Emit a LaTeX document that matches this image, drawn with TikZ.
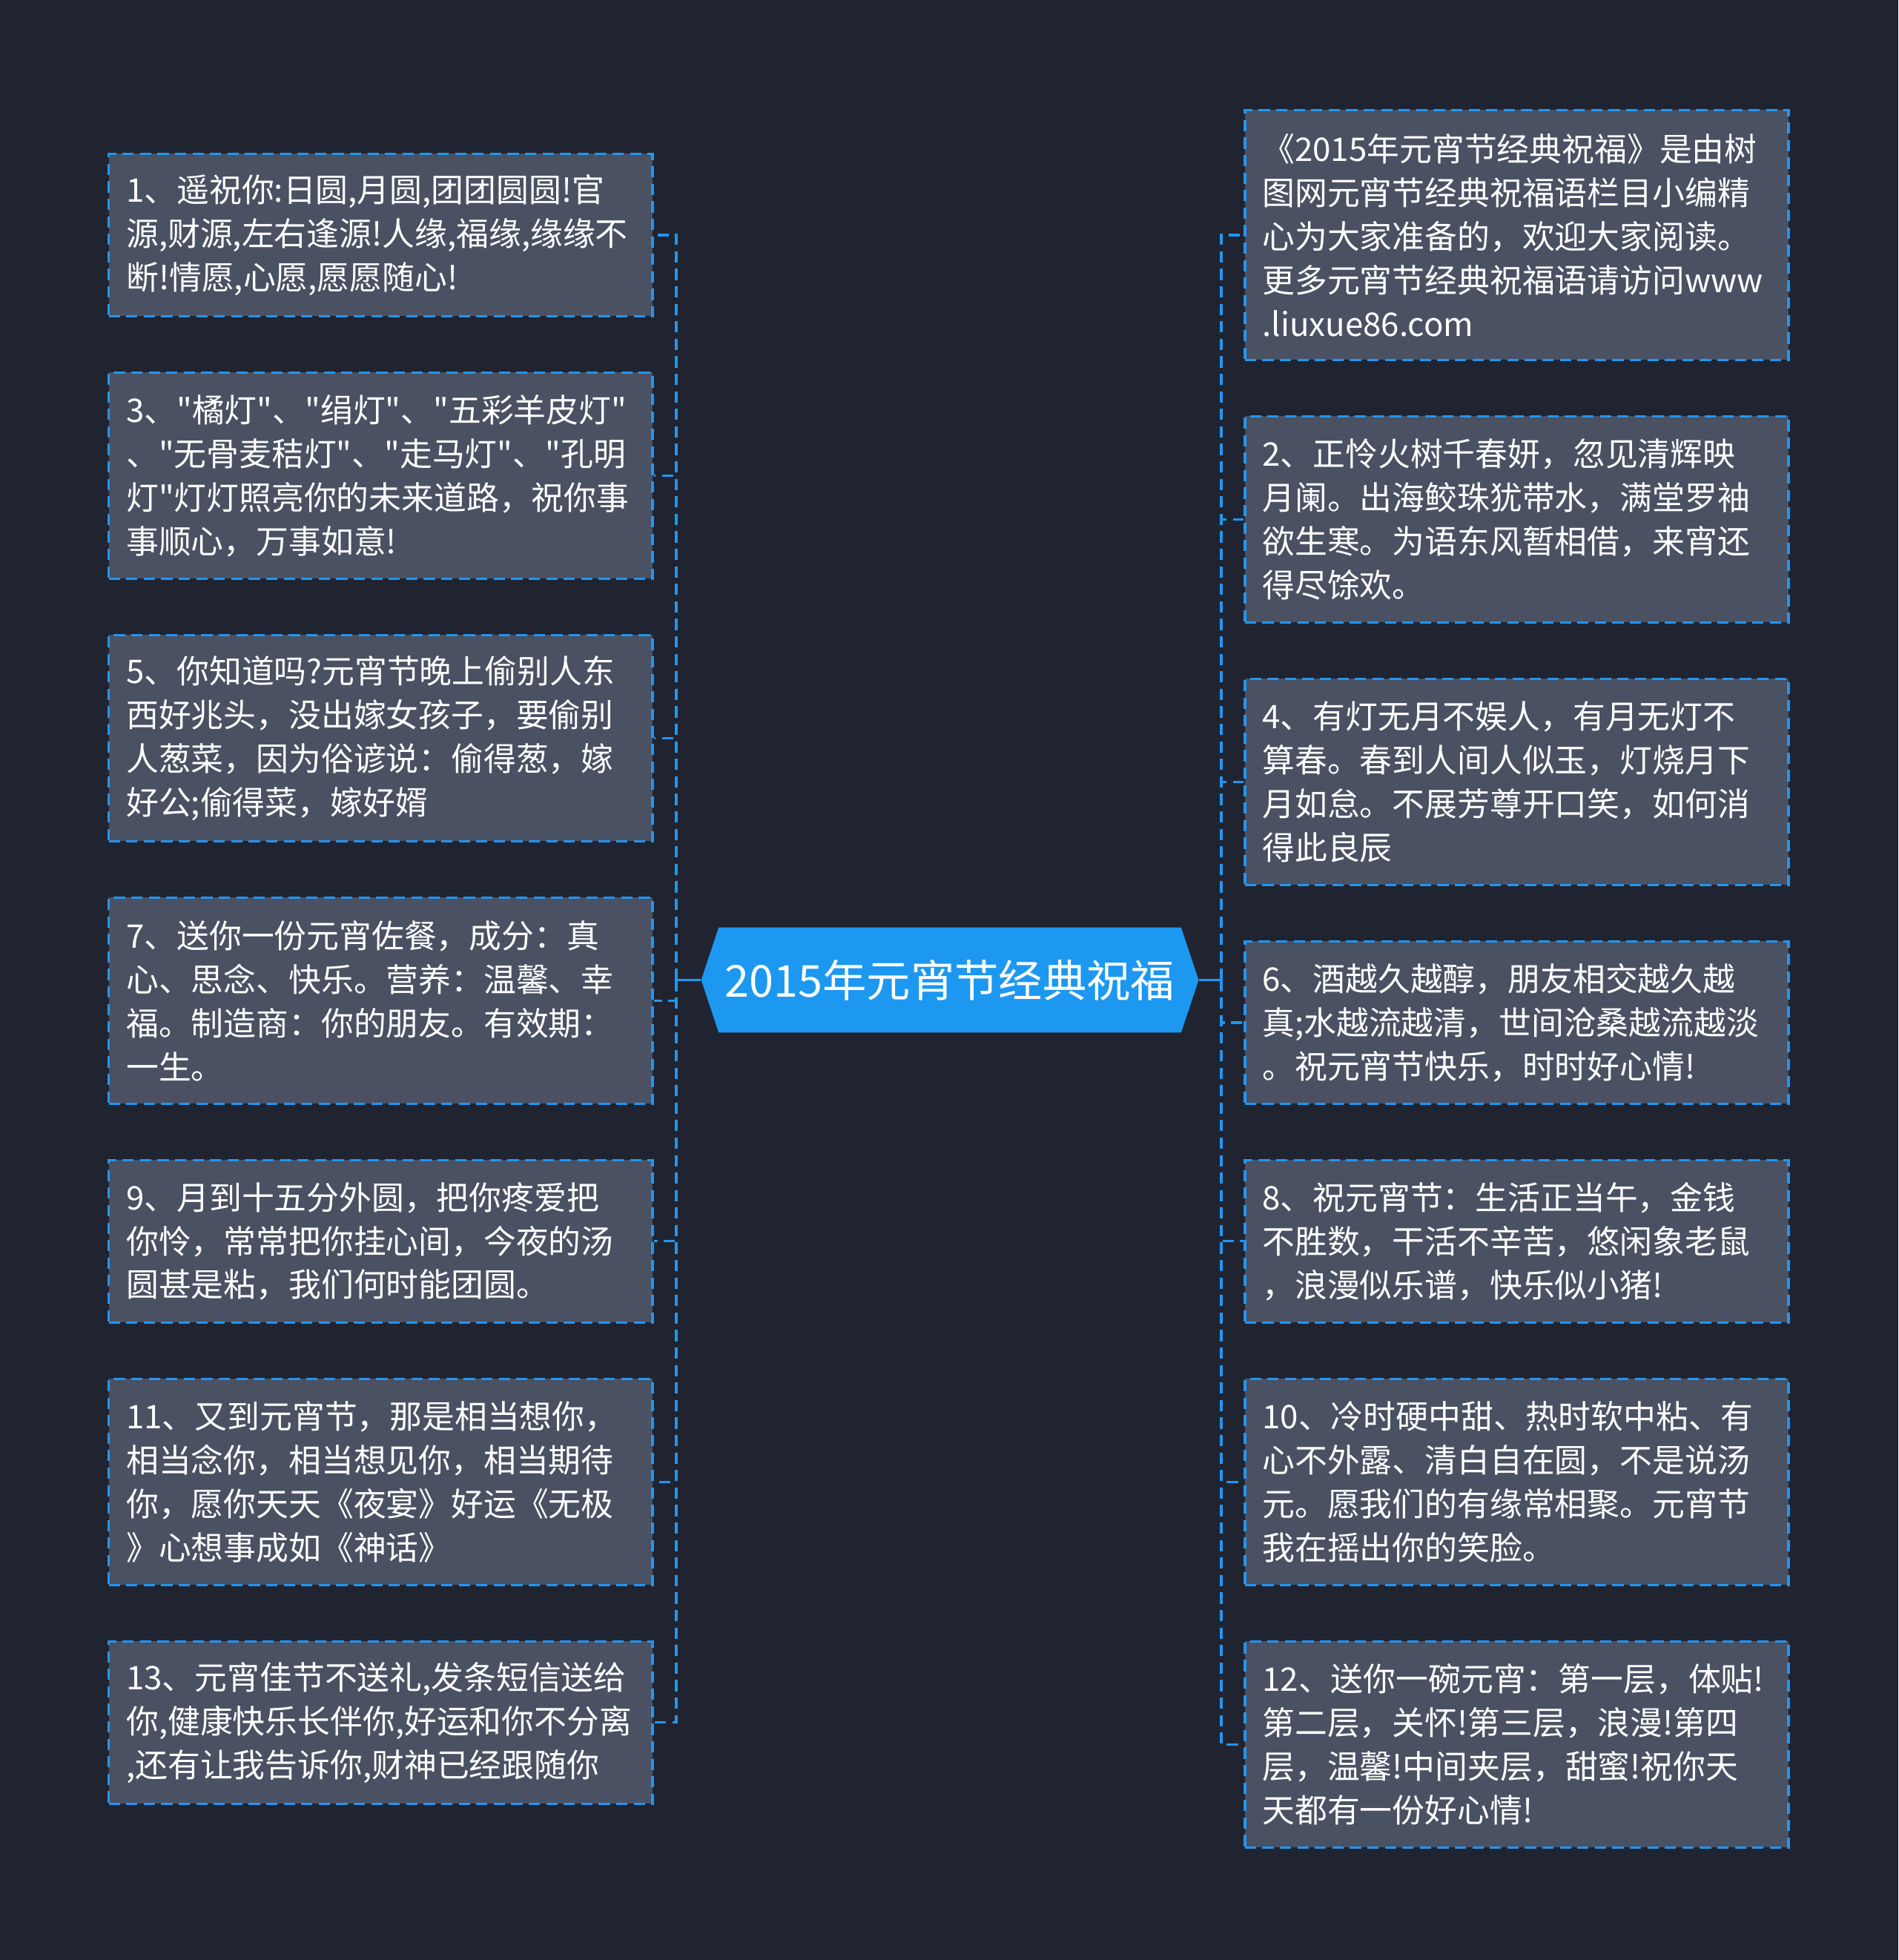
\documentclass[tikz,border=0pt]{standalone}
\usepackage{fontspec}
\newfontfamily\cjk{Noto Sans CJK SC}
\usetikzlibrary{calc}
\definecolor{bgc}{RGB}{32,36,48}
\definecolor{boxc}{RGB}{74,81,98}
\definecolor{bord}{RGB}{33,150,243}
\definecolor{ctrc}{RGB}{28,152,240}
\begin{document}
\begin{tikzpicture}[x=0.5pt,y=-0.5pt,
  box/.style={draw=bord, fill=boxc, line width=1pt, dash pattern=on 4.5pt off 2.5pt,
    minimum width=217.5pt, text width=203.5pt, inner xsep=7pt, inner ysep=0pt,
    align=left, text=white, font=\cjk\fontsize{13pt}{17.5pt}\selectfont},
  hthree/.style={minimum height=65pt},
  hfour/.style={minimum height=82.5pt},
  hfive/.style={minimum height=100pt},
  conn/.style={draw=bord, line width=1pt},
  dconn/.style={conn, dash pattern=on 4.5pt off 2.5pt}]
\fill[bgc] (0,0) rectangle (1519,1568);
\useasboundingbox (0,0) rectangle (1519,1568);

% central topic
\fill[ctrc] (561,784) -- (575,742) -- (945,742) -- (959,784) -- (945,826) -- (575,826) -- cycle;
\node[minimum width=199pt, minimum height=42pt, inner sep=0pt, text=white,
  font=\cjk\fontsize{17.6pt}{21pt}\selectfont] (c) at (760,784) {2015年元宵节经典祝福};

% left boxes
\node[box,hthree] (l1) at (304.5,188) {1、遥祝你:日圆,月圆,团团圆圆!官\\源,财源,左右逢源!人缘,福缘,缘缘不\\断!情愿,心愿,愿愿随心!};
\node[box,hfour] (l3) at (304.5,380.5) {3、"橘灯"、"绢灯"、"五彩羊皮灯"\\、"无骨麦秸灯"、"走马灯"、"孔明\\灯"灯灯照亮你的未来道路，祝你事\\事顺心，万事如意!};
\node[box,hfour] (l5) at (304.5,590.5) {5、你知道吗?元宵节晚上偷别人东\\西好兆头，没出嫁女孩子，要偷别\\人葱菜，因为俗谚说：偷得葱，嫁\\好公;偷得菜，嫁好婿};
\node[box,hfour] (l7) at (304.5,800.5) {7、送你一份元宵佐餐，成分：真\\心、思念、快乐。营养：温馨、幸\\福。制造商：你的朋友。有效期：\\一生。};
\node[box,hthree] (l9) at (304.5,993) {9、月到十五分外圆，把你疼爱把\\你怜，常常把你挂心间，今夜的汤\\圆甚是粘，我们何时能团圆。};
\node[box,hfour] (l11) at (304.5,1185.5) {11、又到元宵节，那是相当想你，\\相当念你，相当想见你，相当期待\\你，愿你天天《夜宴》好运《无极\\》心想事成如《神话》};
\node[box,hthree] (l13) at (304.5,1378) {13、元宵佳节不送礼,发条短信送给\\你,健康快乐长伴你,好运和你不分离\\,还有让我告诉你,财神已经跟随你};

% right boxes
\node[box,hfive] (r0) at (1213.5,188) {《2015年元宵节经典祝福》是由树\\图网元宵节经典祝福语栏目小编精\\心为大家准备的，欢迎大家阅读。\\更多元宵节经典祝福语请访问www\\.liuxue86.com};
\node[box,hfour] (r2) at (1213.5,415.5) {2、正怜火树千春妍，忽见清辉映\\月阑。出海鲛珠犹带水，满堂罗袖\\欲生寒。为语东风暂相借，来宵还\\得尽馀欢。};
\node[box,hfour] (r4) at (1213.5,625.5) {4、有灯无月不娱人，有月无灯不\\算春。春到人间人似玉，灯烧月下\\月如怠。不展芳尊开口笑，如何消\\得此良辰};
\node[box,hthree] (r6) at (1213.5,818) {6、酒越久越醇，朋友相交越久越\\真;水越流越清，世间沧桑越流越淡\\。祝元宵节快乐，时时好心情!};
\node[box,hthree] (r8) at (1213.5,993) {8、祝元宵节：生活正当午，金钱\\不胜数，干活不辛苦，悠闲象老鼠\\，浪漫似乐谱，快乐似小猪!};
\node[box,hfour] (r10) at (1213.5,1185.5) {10、冷时硬中甜、热时软中粘、有\\心不外露、清白自在圆，不是说汤\\元。愿我们的有缘常相聚。元宵节\\我在摇出你的笑脸。};
\node[box,hfour] (r12) at (1213.5,1395.5) {12、送你一碗元宵：第一层，体贴!\\第二层，关怀!第三层，浪漫!第四\\层，温馨!中间夹层，甜蜜!祝你天\\天都有一份好心情!};

% connectors
\coordinate (lt) at (541,784);
\coordinate (rt) at (977,784);
\draw[conn] (c.west) -- (lt);
\draw[conn] (c.east) -- (rt);
\foreach \n in {l1,l3,l5,l7,l9,l11,l13} \draw[dconn] (lt) |- (\n.east);
\foreach \n in {r0,r2,r4,r6,r8,r10,r12} \draw[dconn] (rt) |- (\n.west);
\end{tikzpicture}
\end{document}
